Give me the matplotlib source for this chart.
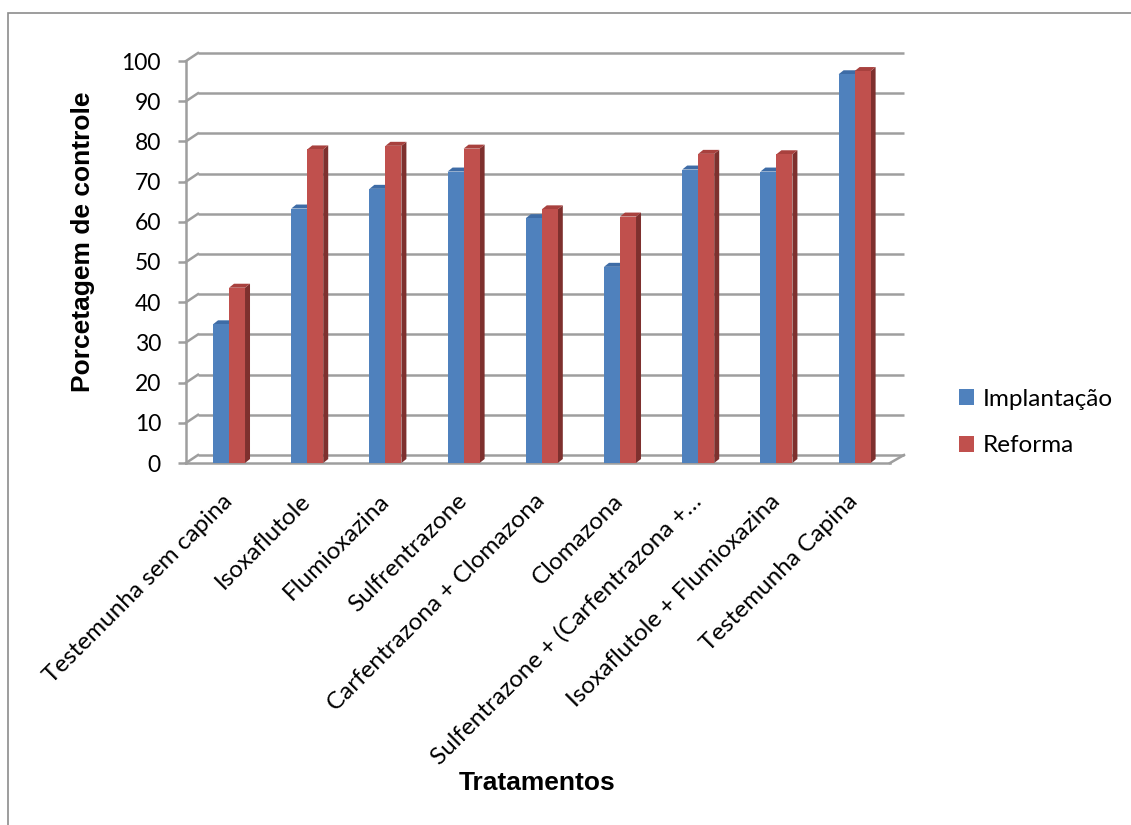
import numpy as np
import matplotlib
matplotlib.use("Agg")
import matplotlib.pyplot as plt
from matplotlib.patches import Polygon, Rectangle

# --- data -------------------------------------------------------------
categories = [
    "Testemunha sem capina",
    "Isoxaflutole",
    "Flumioxazina",
    "Sulfrentrazone",
    "Carfentrazona + Clomazona",
    "Clomazona",
    "Sulfentrazone + (Carfentrazona +…",
    "Isoxaflutole + Flumioxazina",
    "Testemunha Capina",
]
series_names = ["Implantação", "Reforma"]
implantacao = [34.5, 63.3, 68.2, 72.5, 60.9, 48.8, 73.0, 72.5, 96.7]
reforma = [43.6, 78.0, 78.9, 78.2, 63.1, 61.3, 76.9, 76.8, 97.5]
y_ticks = list(range(0, 101, 10))

# --- figure / axes layout (pixel based) --------------------------------
W, H = 1131, 825
fig = plt.figure(figsize=(W / 100, H / 100), dpi=100)
fig.patch.set_facecolor("white")

px_cat = 78.2      # pixels per category
px_val = 4.02      # pixels per unit on the value axis
ax_left, ax_right, ax_top, ax_bottom = 186, 904, 40, 463
ax = fig.add_axes([ax_left / W, (H - ax_bottom) / H,
                   (ax_right - ax_left) / W, (ax_bottom - ax_top) / H])
ax.set_xlim(0, (ax_right - ax_left) / px_cat)
ax.set_ylim(0, (ax_bottom - ax_top) / px_val)
ax.patch.set_visible(False)

FONT = "Lato"
grid_c = "#9E9E9E"

# 3D look: back wall offset and bar depth (in data units)
wall_dx, wall_dy = 12 / px_cat, 8 / px_val
bar_dx, bar_dy = 5 / px_cat, 4 / px_val
floor_end = (890 - ax_left) / px_cat

# back wall gridlines + side wall diagonals
for v in y_ticks:
    ax.plot([wall_dx, ax.get_xlim()[1]], [v + wall_dy, v + wall_dy],
            color=grid_c, lw=1.8, zorder=1, clip_on=False,
            solid_capstyle="butt")
    ax.plot([0, wall_dx], [v, v + wall_dy], color=grid_c, lw=1.8,
            zorder=1, clip_on=False)
# right end of the floor
ax.plot([floor_end, ax.get_xlim()[1]], [0, wall_dy], color=grid_c, lw=1.8,
        zorder=1, clip_on=False)

# axis lines
for side in ("top", "right"):
    ax.spines[side].set_visible(False)
ax.spines["left"].set_bounds(0, 100)
ax.spines["bottom"].set_bounds(0, floor_end)
for side in ("left", "bottom"):
    ax.spines[side].set_color(grid_c)
    ax.spines[side].set_linewidth(1.8)
    ax.spines[side].set_zorder(1.5)

ax.set_yticks(y_ticks)
ax.set_yticklabels([str(v) for v in y_ticks], fontfamily=FONT, fontsize=16.5)
ax.tick_params(axis="y", length=6, width=1.8, color=grid_c, pad=12)

# --- bars ---------------------------------------------------------------
n = len(categories)
x = np.arange(n) + 0.5
bar_w = 16 / px_cat
shift = 0.05

faces = {
    "Implantação": ("#4F81BD", "#3E6CA6", "#385D8A"),
    "Reforma": ("#C0504D", "#A8413E", "#7E302E"),
}

handles = []
for k, (name, vals) in enumerate(zip(series_names, [implantacao, reforma])):
    front, top, side = faces[name]
    centers = x + shift + (k - 0.5) * bar_w
    z = 3 + 2 * k
    for c, h in zip(centers, vals):
        L, R = c - bar_w / 2, c + bar_w / 2
        ax.add_patch(Polygon([(R, 0), (R + bar_dx, bar_dy),
                              (R + bar_dx, h + bar_dy), (R, h)],
                             closed=True, facecolor=side, edgecolor="none",
                             zorder=z))
        ax.add_patch(Polygon([(L, h), (R, h), (R + bar_dx, h + bar_dy),
                              (L + bar_dx, h + bar_dy)],
                             closed=True, facecolor=top, edgecolor="none",
                             zorder=z))
    bars = ax.bar(centers, vals, width=bar_w, color=front, zorder=z + 1,
                  label=name, linewidth=0)
    handles.append(bars)

# --- category labels ------------------------------------------------------
ax.set_xticks(x + shift)
ax.set_xticklabels(categories, rotation=45, ha="right", va="center",
                   rotation_mode="anchor", fontfamily=FONT, fontsize=17.5)
ax.tick_params(axis="x", length=0, pad=25)

# --- titles ---------------------------------------------------------------
fig.text(83 / W, 1 - 242 / H, "Porcetagem de controle", rotation=90,
         ha="center", va="center", fontfamily="Liberation Sans",
         fontweight="bold", fontsize=19)
fig.text(537 / W, 1 - 783 / H, "Tratamentos", ha="center", va="center",
         fontfamily="Liberation Sans", fontweight="bold", fontsize=19)

# --- legend ---------------------------------------------------------------
fig.legend(handles, series_names, loc="center left",
           bbox_to_anchor=(959 / W, 1 - 422.5 / H), frameon=False,
           prop={"family": FONT, "size": 17.5}, handlelength=0.62,
           handleheight=0.62, handletextpad=0.35, labelspacing=1.05,
           borderpad=0, borderaxespad=0)

# outer chart border (left and top edges visible)
fig.patches.append(Rectangle((8 / W, -0.05), 1.2, 1 - 13 / H + 0.05,
                             transform=fig.transFigure, fill=False,
                             edgecolor="#8C8C8C", linewidth=1.2))

fig.savefig("out.png", dpi=100, facecolor="white")
